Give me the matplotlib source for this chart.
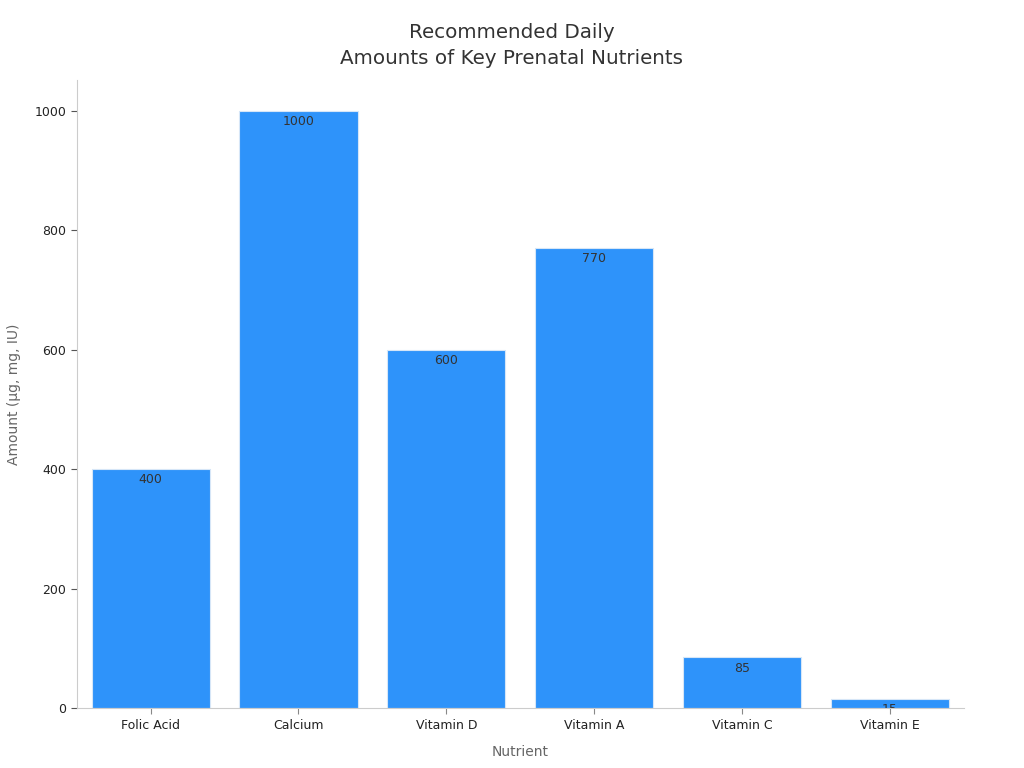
import numpy as np
import matplotlib.pyplot as plt

# Daten
naehrstoffe = ['Folic Acid', 'Calcium', 'Vitamin D', 'Vitamin A', 'Vitamin C', 'Vitamin E']
mengen = [400, 1000, 600, 770, 85, 15]

fig = plt.figure(figsize=(10.24, 7.68), dpi=100)
ax = fig.add_axes([0.075, 0.078, 0.866, 0.818])

x = np.arange(len(naehrstoffe))
bars = ax.bar(x, mengen, width=0.8, color='#2e93fa', edgecolor='#d6e6f7', linewidth=0.8)

# Beschriftung oben im Balken, auf den Balken beschnitten
for rect, wert in zip(bars, mengen):
    t = ax.annotate(str(wert), (rect.get_x() + rect.get_width() / 2, rect.get_height()),
                    xytext=(0, -3), textcoords='offset points',
                    ha='center', va='top', fontsize=9, color='#333333')
    t.set_clip_path(rect)

ax.set_xlim(-0.5, 5.5)
ax.set_ylim(0, 1052)
ax.set_xticks(x)
ax.set_xticklabels(naehrstoffe)
ax.set_yticks([0, 200, 400, 600, 800, 1000])
ax.tick_params(labelsize=9, colors='#222222', length=4)
ax.tick_params(axis='x', color='#888888')
ax.tick_params(axis='y', color='#555555')

ax.spines['top'].set_visible(False)
ax.spines['right'].set_visible(False)
ax.spines['left'].set_color('#cccccc')
ax.spines['bottom'].set_color('#cccccc')

ax.set_xlabel('Nutrient', fontsize=10, color='#666666', labelpad=10)
ax.set_ylabel('Amount (µg, mg, IU)', fontsize=10, color='#666666', labelpad=10)
fig.suptitle('Recommended Daily\nAmounts of Key Prenatal Nutrients', fontsize=14.3,
             color='#333333', x=0.5, y=0.97, va='top', linespacing=1.45)

fig.savefig('out.png', dpi=100)
